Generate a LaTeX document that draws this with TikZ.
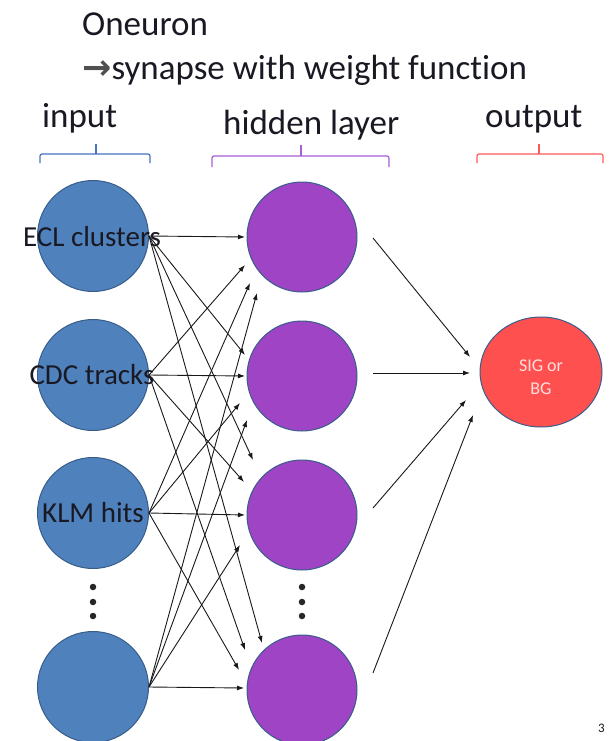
\documentclass[tikz,border=0pt]{standalone}
\usepackage{fontspec}
\setmainfont[Ligatures={NoCommon}]{Carlito}
\newfontfamily\dejavu{DejaVu Sans}
\usetikzlibrary{arrows.meta,shapes.geometric}
\definecolor{inblue}{RGB}{79,129,189}
\definecolor{edgeblue}{RGB}{56,93,138}
\definecolor{hidpurple}{RGB}{158,68,196}
\definecolor{outred}{RGB}{255,80,80}
\definecolor{txt}{RGB}{25,25,35}
\definecolor{braceblue}{RGB}{70,114,196}
\definecolor{bracepurple}{RGB}{165,95,215}
\definecolor{bracered}{RGB}{255,90,90}
\definecolor{pinktxt}{RGB}{255,222,222}
\definecolor{arrowgray}{RGB}{80,80,80}
\begin{document}
\begin{tikzpicture}[x=1pt,y=-1pt,
  inp/.style={circle,fill=inblue,draw=edgeblue,line width=1pt,minimum size=111pt,inner sep=0pt},
  hid/.style={circle,fill=hidpurple,draw=edgeblue,line width=1pt,minimum size=110pt,inner sep=0pt},
  outn/.style={ellipse,fill=outred,draw=edgeblue,line width=1pt,minimum width=122pt,minimum height=110pt,inner sep=0pt},
  arr/.style={-{Latex[length=7pt,width=5pt]},line width=0.9pt,black!90},
  lbl/.style={font=\fontsize{29}{32}\selectfont,text=txt,inner sep=0pt},
  head/.style={font=\fontsize{35}{40}\selectfont,text=txt,inner sep=0pt,anchor=base west},
  bracepath/.style={line width=1.2pt,rounded corners=2pt},
  dotn/.style={circle,fill=black!85,inner sep=0pt,minimum size=6.5pt}
]
\useasboundingbox (0,0) rectangle (610,741);
\fill[white] (0,0) rectangle (610,741);

% headings
\node[head] (t1) at (82,36) {Oneuron};
\node[head] (t2) at (82,80) {{\dejavu\bfseries\color{arrowgray}\fontsize{35}{40}\selectfont →}synapse with weight function};
\node[head] (hin) at (42,128) {input};
\node[head] (hhid) at (223,135) {hidden layer};
\node[head] (hout) at (485,128) {output};

% braces
\draw[bracepath,braceblue] (40,163) -- (40,154) -- (150,154) -- (150,163);
\draw[line width=1.2pt,braceblue] (96,154) -- (96,144);
\draw[bracepath,bracepurple] (212,167) -- (212,156) -- (389,156) -- (389,167);
\draw[line width=1.2pt,bracepurple] (301,156) -- (301,145);
\draw[bracepath,bracered] (477,163) -- (477,154) -- (603,154) -- (603,163);
\draw[line width=1.2pt,bracered] (539,154) -- (539,144);

% input nodes
\node[inp] (i1) at (93,236) {};
\node[inp] (i2) at (93,375) {};
\node[inp] (i3) at (93,513) {};
\node[inp] (i4) at (93,687) {};
% hidden nodes
\node[hid] (h1) at (302,237) {};
\node[hid] (h2) at (302,376) {};
\node[hid] (h3) at (302,515) {};
\node[hid] (h4) at (302,690) {};
% output
\node[outn] (o) at (541,372) {};
\node[font=\fontsize{18}{23}\selectfont,text=pinktxt,align=center,inner sep=0pt] (otxt) at (541,377) {SIG or\\BG};

% dots
\foreach \k/\yy in {1/587,2/602,3/616}{
  \node[dotn] (di\k) at (93,\yy) {};
  \node[dotn] (dh\k) at (302,\yy) {};
}

% input -> hidden
\foreach \a/\b/\x/\y in {1/1/245/237, 2/1/245/265, 3/1/250/283, 4/1/257/293,
  1/2/245/355, 2/2/245/376, 3/2/240/403, 4/2/247/420,
  1/3/253/460, 2/3/244/482, 3/3/245/515, 4/3/240/545,
  1/4/262/643, 2/4/245/650, 3/4/239/670, 4/4/244/688}{
  \coordinate (t\a\b) at (\x,\y);
  \draw[arr] (i\a.east) -- (t\a\b);
}

% labels on inputs
\node[lbl,anchor=base] (l1) at (92,246) {ECL clusters};
\node[lbl,anchor=base] (l2) at (92,384) {CDC tracks};
\node[lbl,anchor=base] (l3) at (93,522) {KLM hits};

% hidden -> output
\coordinate (s1) at (373,238); \coordinate (e1) at (470,357);
\coordinate (s2) at (373,373); \coordinate (e2) at (470,373);
\coordinate (s3) at (373,508); \coordinate (e3) at (466,400);
\coordinate (s4) at (373,673); \coordinate (e4) at (473,415);
\foreach \k in {1,2,3,4}{\draw[arr] (s\k) -- (e\k);}

% slide number
\node[anchor=north west,font=\fontsize{13}{13}\selectfont,text=txt,inner sep=0pt] (num) at (598,724) {3};
\end{tikzpicture}
\end{document}
